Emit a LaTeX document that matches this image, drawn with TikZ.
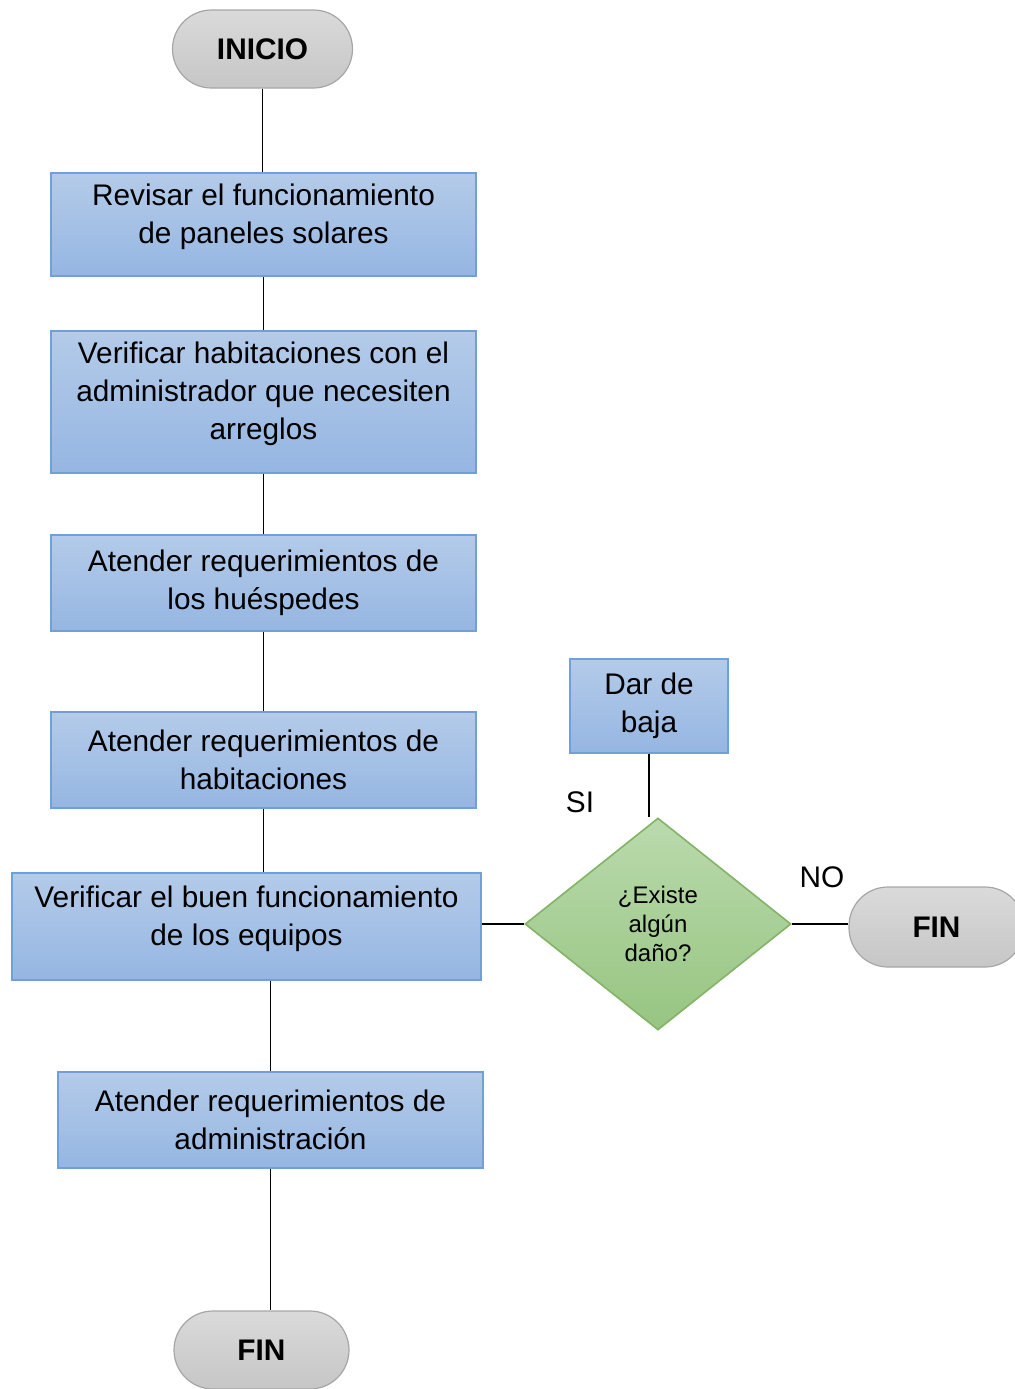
\documentclass[tikz,border=0pt]{standalone}
\usepackage{fontspec}
\setmainfont{Liberation Sans}
\usepackage{xcolor}
\usepackage{tikz}
\usetikzlibrary{shapes.geometric, positioning, calc}
\definecolor{procesotop}{HTML}{B4CBE9}
\definecolor{procesobottom}{HTML}{95B6E2}
\definecolor{procesoline}{HTML}{6FA0DA}
\definecolor{terminaltop}{HTML}{DADADA}
\definecolor{terminalbottom}{HTML}{C6C6C6}
\definecolor{terminalline}{HTML}{A6A6A6}
\definecolor{decisiontop}{HTML}{BADAAD}
\definecolor{decisionbottom}{HTML}{97C581}
\definecolor{decisionline}{HTML}{82B366}

\begin{document}
\begin{tikzpicture}[
    x=0.5pt, y=-0.5pt,
    proceso/.style={
        rectangle,
        draw=procesoline,
        top color=procesotop,
        bottom color=procesobottom,
        line width=0.8pt,
        minimum width=212.5pt,
        minimum height=48pt,
        inner sep=0pt,
        align=center,
        font=\fontsize{14.9}{19}\selectfont
    },
    terminal/.style={
        rectangle,
        rounded corners=19.5pt,
        draw=terminalline,
        top color=terminaltop,
        bottom color=terminalbottom,
        line width=0.6pt,
        minimum width=90pt,
        minimum height=39pt,
        font=\bfseries\fontsize{14.9}{19}\selectfont
    },
    decision/.style={
        diamond,
        draw=decisionline,
        top color=decisiontop,
        bottom color=decisionbottom,
        line width=0.8pt,
        minimum width=133pt,
        minimum height=106pt,
        inner sep=0pt,
        align=center,
        font=\fontsize{12}{14.5}\selectfont
    },
    etiqueta/.style={font=\fontsize{14.9}{19}\selectfont},
    linea/.style={line width=0.6pt, draw=black}
]

\useasboundingbox (0,0) rectangle (1014,1389);

% columna principal
\node[terminal] (inicio) at (262.5,49) {INICIO};
\node[proceso, minimum height=51.5pt, text depth=11pt] (revisar) at (263.5,224.5) {Revisar el funcionamiento\\de paneles solares};
\node[proceso, minimum height=71pt, text depth=11pt] (habitaciones) at (263.5,402) {Verificar habitaciones con el\\administrador que necesiten\\arreglos};
\node[proceso] (huespedes) at (263.5,583) {Atender requerimientos de\\los huéspedes};
\node[proceso] (reqhab) at (263.5,760) {Atender requerimientos de\\habitaciones};
\node[proceso, minimum width=234.5pt, minimum height=53.5pt, text depth=11pt] (equipos) at (246.5,926.5) {Verificar el buen funcionamiento\\de los equipos};
\node[proceso] (admin) at (270.5,1120) {Atender requerimientos de\\administración};
\node[terminal, minimum width=87.5pt] (fin) at (261.5,1350) {FIN};

% rama de la decision
\node[decision] (dano) at (658,924) {¿Existe\\algún\\daño?};
\node[proceso, minimum width=79pt, minimum height=47pt] (baja) at (649,706) {Dar de\\baja};
\node[terminal, minimum width=87.5pt, minimum height=40pt] (fin2) at (936.5,927) {FIN};
\node[etiqueta] (si) at (580,802) {SI};
\node[etiqueta] (no) at (822,877) {NO};

\draw[linea] (inicio.south) -- (inicio.south |- revisar.north);
\draw[linea] (revisar.south) -- (habitaciones.north);
\draw[linea] (habitaciones.south) -- (huespedes.north);
\draw[linea] (huespedes.south) -- (reqhab.north);
\draw[linea] (reqhab.south) -- (reqhab.south |- equipos.north);
\draw[linea] (admin.north |- equipos.south) -- (admin.north);
\draw[linea] (admin.south) -- (admin.south |- fin.north);
\draw[linea] (equipos.east |- dano.west) -- (dano.west);
\draw[linea] (baja.south) -- (baja.south |- dano.north);
\draw[linea] (dano.east) -- (dano.east -| fin2.west);

\end{tikzpicture}
\end{document}
